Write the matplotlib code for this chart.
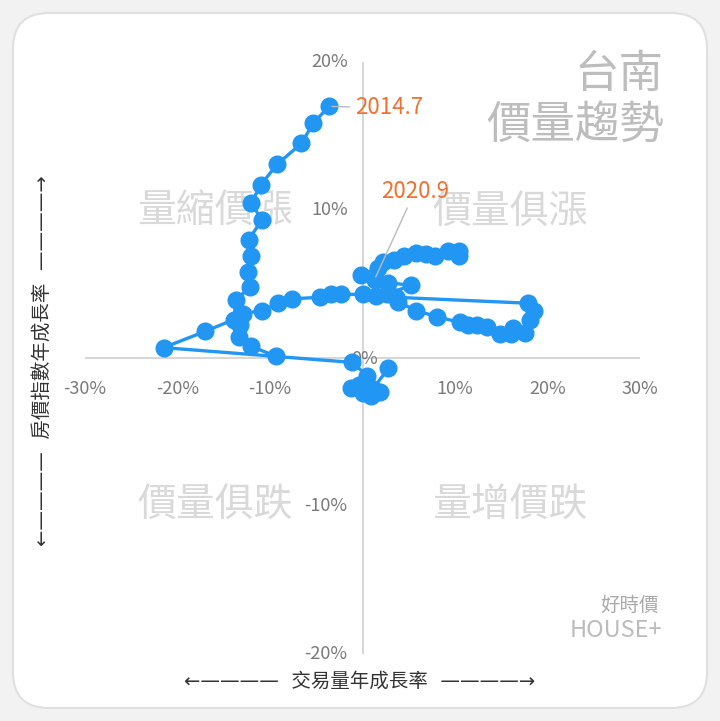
import matplotlib.pyplot as plt
from matplotlib.patches import FancyBboxPatch

plt.rcParams['font.family'] = ['Noto Sans CJK TC', 'DejaVu Sans']

# chain 1: 2014.7 onward (volume yoy %, price yoy %)
vol_a = [-3.6, -5.3, -6.6, -9.2, -11.0, -12.0, -10.9, -12.3, -12.0, -12.4, -12.2, -13.7,
         -13.9, -17.0, -21.5, -1.1, 0.5, -0.4, -1.2, 0.0, 0.9, 1.9, 1.1, 2.8]
price_a = [17.0, 15.9, 14.5, 13.1, 11.7, 10.5, 9.3, 8.0, 6.9, 5.8, 4.8, 3.9,
           2.6, 1.8, 0.7, -0.3, -1.2, -1.8, -2.0, -2.4, -2.6, -2.3, -2.1, -0.7]
# chain 2: up to 2020.9
vol_b = [-9.3, -12.1, -13.4, -13.2, -12.9, -10.9, -9.1, -7.6, -4.6, -3.4, -2.3, 0.1, 1.5, 3.6,
         17.9, 18.5, 18.1, 17.6, 16.0, 16.3, 14.9, 13.5, 12.4, 11.4, 10.5, 8.0, 5.8, 3.8,
         2.6, 5.2, 2.8, 1.3, -0.2, 1.7, 2.2, 3.4, 4.5, 5.8, 6.9, 7.8, 9.2, 10.4, 10.4]
price_b = [0.1, 0.8, 1.4, 2.2, 3.0, 3.2, 3.7, 4.0, 4.1, 4.3, 4.3, 4.3, 4.2, 4.1,
           3.7, 3.2, 2.6, 1.7, 1.6, 2.0, 1.6, 2.1, 2.2, 2.2, 2.4, 2.8, 3.2, 3.8,
           4.3, 4.9, 5.1, 5.3, 5.6, 6.1, 6.5, 6.6, 6.9, 7.1, 7.0, 6.9, 7.2, 7.2, 6.9]
xticks = [-30, -20, -10, 10, 20, 30]
yticks = [20, 10, -10, -20]
quadrants = [("量縮價漲", -15.9, 9.9), ("價量俱漲", 15.9, 9.9), ("價量俱跌", -15.9, -10), ("量增價跌", 15.9, -10)]

blue = "#2196f3"
orange = "#f07030"
gray = "#7a7a7a"

fig = plt.figure(figsize=(7.2, 7.21), dpi=100)
fig.patch.set_facecolor("#f2f2f2")
card = FancyBboxPatch((0.018, 0.018), 0.964, 0.964, boxstyle="round,pad=0,rounding_size=0.05",
                      transform=fig.transFigure, facecolor="white", edgecolor="#e0e0e0", lw=1.5,
                      zorder=-5)
fig.patches.append(card)

ax = fig.add_axes([0.118, 0.093, 0.771, 0.821], zorder=2)
ax.patch.set_alpha(0)
ax.set_xlim(-30, 30)
ax.set_ylim(-20, 20)
ax.axis("off")
ax.axhline(0, color="#d0d0d0", lw=1.2, zorder=1)
ax.axvline(0, color="#d0d0d0", lw=1.2, zorder=1)

for t in xticks:
    ax.text(t, -2.1, f"{t}%", ha="center", va="center", color=gray, fontsize=13, fontweight="medium")
for t in yticks:
    ax.text(-1.6, t, f"{t}%", ha="right", va="center", color=gray, fontsize=13, fontweight="medium")
ax.text(0.2, -0.1, "0%", ha="center", va="center", color=gray, fontsize=13)

for name, x, y in quadrants:
    ax.text(x, y, name, ha="center", va="center", color="#d9d9d9", fontsize=28, zorder=0)

for vx, py in ((vol_a, price_a), (vol_b, price_b)):
    ax.plot(vx, py, color=blue, lw=2.4, marker="o", ms=12, zorder=3)

ax.annotate("2014.7", xy=(vol_a[0], price_a[0]), xytext=(-0.8, 16.9), color=orange, fontsize=16,
            va="center", arrowprops=dict(arrowstyle="-", color="#bbbbbb", lw=1))
ax.annotate("2020.9", xy=(vol_b[31], price_b[31]), xytext=(2.0, 10.5), color=orange, fontsize=16,
            va="bottom", arrowprops=dict(arrowstyle="-", color="#bbbbbb", lw=1))

fig.text(0.922, 0.93, "台南\n價量趨勢", ha="right", va="top", color="#bdbdbd", fontsize=32,
         fontweight="medium", linespacing=1.15)
fig.text(0.5, 0.055, "←————  交易量年成長率  ————→", ha="center", va="center", color="#333333",
         fontsize=14, family=["DejaVu Sans", "Noto Sans CJK TC"])
fig.text(0.058, 0.5, "←————  房價指數年成長率  ————→", ha="center", va="center", color="#333333",
         fontsize=14, rotation=90, family=["DejaVu Sans", "Noto Sans CJK TC"])
fig.text(0.915, 0.16, "好時價", ha="right", va="center", color="#aaaaaa", fontsize=14)
fig.text(0.92, 0.125, "HOUSE+", ha="right", va="center", color="#bbbbbb", fontsize=17)

fig.savefig("out.png", dpi=100, facecolor=fig.get_facecolor())
